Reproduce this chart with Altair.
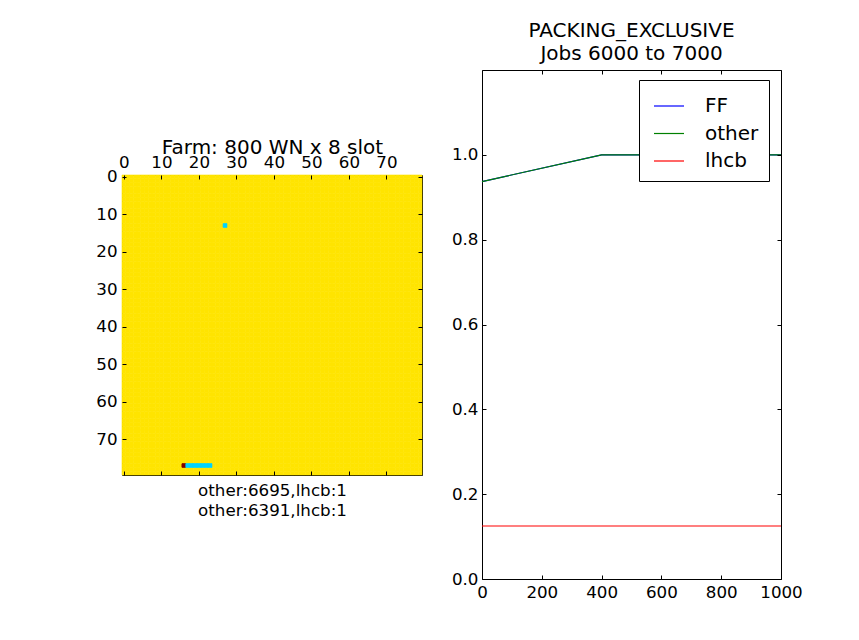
import altair as alt
import numpy as np
import pandas as pd

FONT = "DejaVu Sans"

# ---------------- Left panel: farm occupancy map ----------------
n_rows = 80
n_cols = 80
base_state = "busy"
cell_rows = [13, 77, 77, 77, 77, 77, 77, 77, 77]
cell_cols = [27, 16, 17, 18, 19, 20, 21, 22, 23]
cell_states = ["other", "lhcb", "other", "other", "other", "other", "other", "other", "other"]
state_names = ["busy", "other", "lhcb"]
state_colors = ["#ffe400", "#00d4ff", "#800000"]
farm_title = "Farm: 800 WN x 8 slot"
farm_xlabel = ["other:6695,lhcb:1", "other:6391,lhcb:1"]
farm_ticks = [0, 10, 20, 30, 40, 50, 60, 70]

# ---------------- Right panel: fractions ----------------
panel_title = ["PACKING_EXCLUSIVE", "Jobs 6000 to 7000"]
series_names = ["FF", "other", "lhcb"]
series_colors = ["#0000ff", "#008000", "#ff0000"]
ff_x = [0, 400, 1000]
ff_y = [0.937, 1.0, 1.0]
other_x = [0, 400, 1000]
other_y = [0.937, 1.0, 1.0]
lhcb_x = [0, 1000]
lhcb_y = [0.125, 0.125]
job_ticks = [0, 200, 400, 600, 800, 1000]
frac_ticks = [0.0, 0.2, 0.4, 0.6, 0.8, 1.0]

# ---- build tables ----
grid = np.full((n_rows, n_cols), base_state, dtype=object)
for r, c, s in zip(cell_rows, cell_cols, cell_states):
    grid[r, c] = s
rr, cc = np.meshgrid(np.arange(n_rows), np.arange(n_cols), indexing="ij")
heat_df = pd.DataFrame({"row": rr.ravel(), "col": cc.ravel(), "state": grid.ravel()})
exc_df = pd.DataFrame({"row": cell_rows, "col": cell_cols, "state": cell_states})

lines_df = pd.concat([
    pd.DataFrame({"series": "FF", "jobs": ff_x, "frac": ff_y, "k": 0}),
    pd.DataFrame({"series": "other", "jobs": other_x, "frac": other_y, "k": 1}),
    pd.DataFrame({"series": "lhcb", "jobs": lhcb_x, "frac": lhcb_y, "k": 2}),
], ignore_index=True)

TICK = 4
TICKFS = 16.7
TITLEFS = 20
LAB = dict(labelFont=FONT, labelFontSize=TICKFS, labelColor="black", tickColor="black",
           tickSize=TICK, offset=-TICK, domain=False, grid=False, zindex=1,
           labelOverlap=False, labelFlush=False)

xs = alt.Scale(domain=[-0.5, n_cols - 0.5], nice=False, zero=False)
ys = alt.Scale(domain=[-0.5, n_rows - 0.5], nice=False, zero=False, reverse=True)
fill_scale = alt.Scale(domain=state_names, range=state_colors)


def cells(data, x_axis, y_axis):
    return alt.Chart(data).transform_calculate(
        x0="datum.col - 0.5", x1="datum.col + 0.5",
        y0="datum.row - 0.5", y1="datum.row + 0.5",
    ).mark_rect(strokeWidth=0.6).encode(
        x=alt.X("x0:Q", scale=xs, axis=x_axis),
        x2="x1:Q",
        y=alt.Y("y0:Q", scale=ys, axis=y_axis),
        y2="y1:Q",
        color=alt.Color("state:N", scale=fill_scale, legend=None),
        stroke=alt.Stroke("state:N", scale=fill_scale, legend=None),
    )


heat_main = cells(
    heat_df,
    alt.Axis(orient="top", values=farm_ticks, labelPadding=4, title=farm_title,
             titleFont=FONT, titleFontSize=TITLEFS, titleFontWeight="normal", titleColor="black",
             titlePadding=-3, labelAngle=0, **LAB),
    alt.Axis(orient="left", values=farm_ticks, labelPadding=5, title=None, **LAB),
)
heat_frame = cells(
    exc_df,
    alt.Axis(orient="bottom", values=farm_ticks, labels=False, title=farm_xlabel,
             titleFont=FONT, titleFontSize=TICKFS, titleFontWeight="normal", titleColor="black",
             titlePadding=7, titleLineHeight=19.5, **LAB),
    alt.Axis(orient="right", values=farm_ticks, labels=False, title=None, **LAB),
)
heat = alt.layer(heat_main, heat_frame).resolve_axis(x="independent", y="independent").properties(
    width=300, height=300)

spacer = alt.Chart(pd.DataFrame({"v": [0]})).mark_text().encode(text=alt.value("")).properties(
    width=300, height=66, view=alt.ViewBackground(strokeOpacity=0))

left = alt.vconcat(spacer, heat, spacing=0)

# ---------------- right panel ----------------
jx = alt.Scale(domain=[0, 1000], nice=False)
fy = alt.Scale(domain=[0, 1.2], nice=False)
col_scale = alt.Scale(domain=series_names, range=series_colors)

lines_main = alt.Chart(lines_df).transform_filter("datum.series != 'lhcb'").mark_line(strokeWidth=1.2).encode(
    x=alt.X("jobs:Q", scale=jx, axis=alt.Axis(orient="bottom", values=job_ticks, labelPadding=5,
                                             format="d", title=None, labelAngle=0, **LAB)),
    y=alt.Y("frac:Q", scale=fy, axis=alt.Axis(orient="left", values=frac_ticks, format=".1f",
                                             labelPadding=4, title=None, **LAB)),
    color=alt.Color("series:N", scale=col_scale, sort=series_names,
                    legend=alt.Legend(orient="none", legendX=157, legendY=10, title=None,
                                      strokeColor="black", fillColor="white", padding=10,
                                      cornerRadius=0, symbolType="stroke", symbolSize=900,
                                      symbolOffset=4, symbolStrokeWidth=1.2,
                                      labelFont=FONT, labelFontSize=TITLEFS, labelColor="black",
                                      labelOffset=20, rowPadding=1.5)),
    order="k:Q",
)
lines_frame = alt.Chart(lines_df).transform_filter("datum.series == 'lhcb'").mark_line(strokeWidth=1.2).encode(
    x=alt.X("jobs:Q", scale=jx, axis=alt.Axis(orient="top", values=job_ticks, labels=False,
                                             title=None, **LAB)),
    y=alt.Y("frac:Q", scale=fy, axis=alt.Axis(orient="right", values=frac_ticks, labels=False,
                                             title=None, **LAB)),
    color=alt.Color("series:N", scale=col_scale, sort=series_names),
)
right = alt.layer(lines_main, lines_frame).resolve_axis(x="independent", y="independent").properties(
    width=299, height=509,
    title=alt.TitleParams(panel_title, font=FONT, fontSize=TITLEFS, fontWeight="normal", color="black",
                          lineHeight=23, offset=6),
)

chart = alt.hconcat(left, right, spacing=27).resolve_scale(
    color="independent", stroke="independent"
).properties(
    padding={"left": 95, "top": 20, "right": 0, "bottom": 0},
).configure(font=FONT).configure_view(stroke="black", strokeWidth=1)

chart.save("out.html", embed_options={"renderer": "svg", "actions": False})
